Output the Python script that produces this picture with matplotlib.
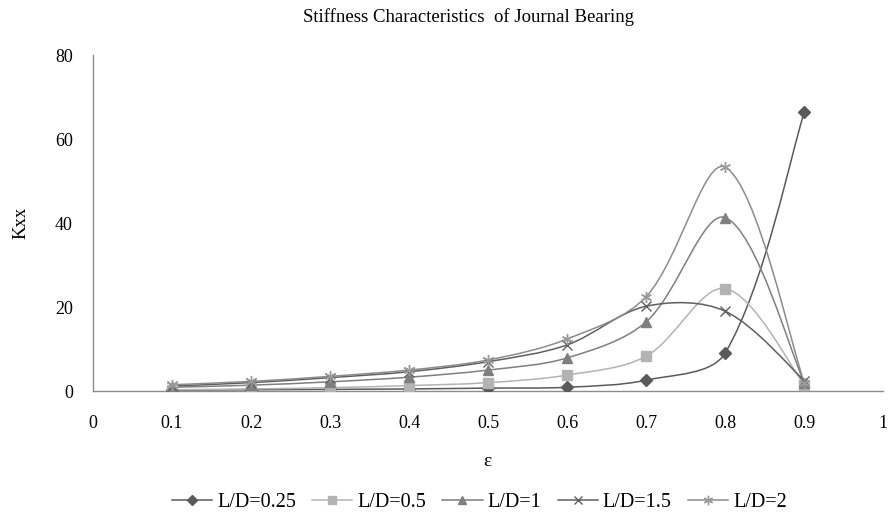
import matplotlib
matplotlib.use("Agg")
import matplotlib.pyplot as plt
from matplotlib.path import Path
from matplotlib.patches import PathPatch
from matplotlib.lines import Line2D

plt.rcParams["font.family"] = ["Liberation Serif", "DejaVu Serif"]

eps = [0.1, 0.2, 0.3, 0.4, 0.5, 0.6, 0.7, 0.8, 0.9]
kxx_025 = [0.2, 0.3, 0.4, 0.5, 0.7, 0.9, 2.6, 9.1, 66.4]
kxx_05 = [0.3, 0.5, 0.8, 1.3, 2.0, 3.8, 8.3, 24.4, 1.5]
kxx_1 = [0.9, 1.4, 2.2, 3.3, 5.0, 7.9, 16.5, 41.3, 2.0]
kxx_15 = [1.2, 2.0, 3.2, 4.6, 7.0, 11.0, 20.2, 19.0, 2.5]
kxx_2 = [1.5, 2.3, 3.5, 5.0, 7.4, 12.4, 22.5, 53.3, 2.0]

series = [
    ("L/D=0.25", kxx_025, "D", "#5a5a5a", "#5a5a5a", 6),
    ("L/D=0.5", kxx_05, "s", "#b3b3b3", "#b3b3b3", 6.5),
    ("L/D=1", kxx_1, "^", "#7f7f7f", "#7f7f7f", 7),
    ("L/D=1.5", kxx_15, "x", "#5f5f5f", "#5f5f5f", 7),
    ("L/D=2", kxx_2, (6, 2, 0), "#8c8c8c", "#9a9a9a", 8),
]

# rough pixel scale of the data axes, used to weight the smoothing
SX, SY = 790.0, 4.2


def _dist(a, b):
    return (((b[0] - a[0]) * SX) ** 2 + ((b[1] - a[1]) * SY) ** 2) ** 0.5


def smooth_path(xs, ys):
    # Excel-like smoothed line: cubic Bezier segments through every point,
    # tangents weighted by neighbouring segment lengths
    pts = list(zip(xs, ys))
    verts = [pts[0]]
    codes = [Path.MOVETO]
    n = len(pts)
    for i in range(n - 1):
        p0 = pts[i - 1] if i > 0 else pts[i]
        p1 = pts[i]
        p2 = pts[i + 1]
        p3 = pts[i + 2] if i + 2 < n else pts[i + 1]
        d01, d12, d23 = _dist(p0, p1), _dist(p1, p2), _dist(p2, p3)
        f1 = d12 / (d01 + d12) / 3 if d01 > 0 else 1 / 6
        f2 = d12 / (d12 + d23) / 3 if d23 > 0 else 1 / 6
        c1 = (p1[0] + (p2[0] - p0[0]) * f1, p1[1] + (p2[1] - p0[1]) * f1)
        c2 = (p2[0] - (p3[0] - p1[0]) * f2, p2[1] - (p3[1] - p1[1]) * f2)
        verts += [c1, c2, p2]
        codes += [Path.CURVE4] * 3
    return Path(verts, codes)


fig = plt.figure(figsize=(8.91, 5.2), dpi=100)
ax = fig.add_axes([0.1044, 0.248, 0.887, 0.646])

handles = []
for label, vals, mk, lc, mc, ms in series:
    ax.add_patch(PathPatch(smooth_path(eps, vals), facecolor="none",
                           edgecolor=lc, lw=1.1, zorder=2))
    ax.plot(eps, vals, linestyle="none", marker=mk, color=mc, ms=ms,
            mew=1.0, zorder=3)
    handles.append(Line2D([], [], color=lc, lw=1.1, marker=mk, mfc=mc,
                          mec=mc, ms=ms * 0.85, mew=1.0, label=label))

ax.set_xlim(0, 1)
ax.set_ylim(0, 80)
ax.set_xticks([0, 0.1, 0.2, 0.3, 0.4, 0.5, 0.6, 0.7, 0.8, 0.9, 1])
ax.set_xticklabels(["0", "0.1", "0.2", "0.3", "0.4", "0.5", "0.6", "0.7",
                    "0.8", "0.9", "1"])
ax.set_yticks([0, 20, 40, 60, 80])
ax.tick_params(length=0, labelsize=13)
ax.tick_params(axis="x", pad=17)
ax.tick_params(axis="y", pad=14.5)
for side in ("top", "right"):
    ax.spines[side].set_visible(False)
for side in ("left", "bottom"):
    ax.spines[side].set_color("#8c8c8c")
    ax.spines[side].set_linewidth(1.0)

fig.text(0.526, 0.967, "Stiffness Characteristics  of Journal Bearing",
         ha="center", va="center", fontsize=13.5)
fig.text(0.547, 0.112, "ε", ha="center", va="center", fontsize=14)
fig.text(0.023, 0.571, "Kxx", ha="center", va="center", rotation=90,
         fontsize=13.5)

fig.legend(handles=handles, loc="center", bbox_to_anchor=(0.538, 0.033),
           ncol=5, frameon=False, fontsize=14.5, handlelength=2.0,
           columnspacing=0.8, handletextpad=0.25)

fig.savefig("out.png", dpi=100)
